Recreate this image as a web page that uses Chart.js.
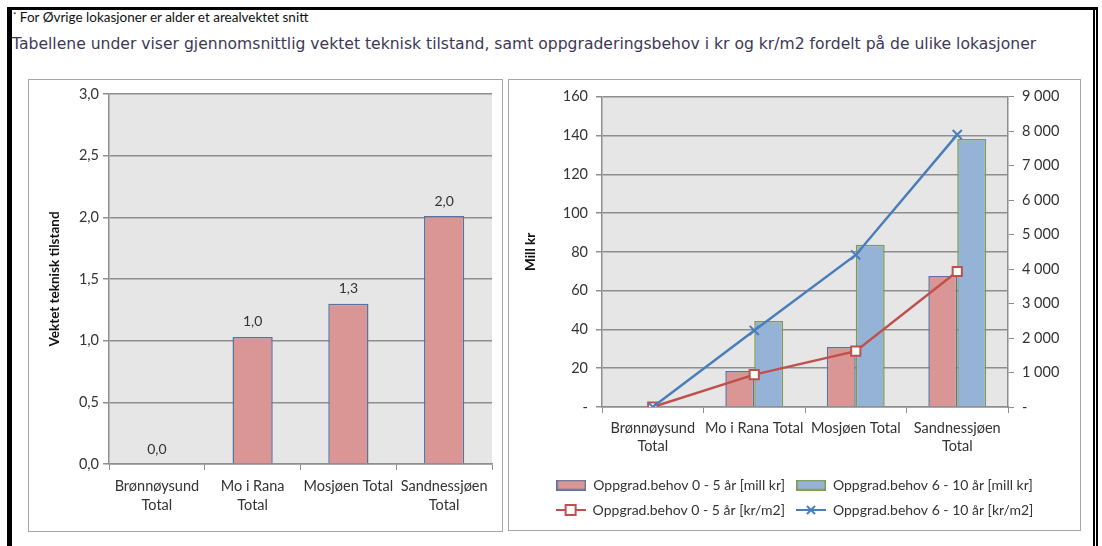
<!DOCTYPE html>
<html>
<head>
<meta charset="utf-8">
<script src="https://cdn.jsdelivr.net/npm/chart.js@4.4.1/dist/chart.umd.min.js"></script>
<style>
  body { margin: 0; background: #fff; }
  #page { position: relative; width: 1102px; height: 546px; overflow: hidden; background: #fff; }
  .bar { position: absolute; background: #000; }
  #note { position: absolute; left: 13px; top: 9px; font: 13.5px Lato, sans-serif; color: #111; white-space: nowrap; }
  #note sup { font-size: 8px; vertical-align: 4px; }
  #intro { position: absolute; left: 12px; top: 35px; font: 15.6px "DejaVu Sans", sans-serif; color: #3d3855; white-space: nowrap; }
  .box { position: absolute; border: 1px solid #a6a6a6; background: #fff; }
  .box canvas { position: absolute; left: 0; top: 0; }
</style>
</head>
<body>
<div id="page">
  <div class="bar" style="left:7px;top:7px;width:5px;height:539px"></div>
  <div class="bar" style="left:7px;top:7px;width:1091px;height:3px"></div>
  <div class="bar" style="left:1093px;top:7px;width:2px;height:539px"></div>
  <div class="bar" style="left:1096px;top:7px;width:2px;height:539px"></div>
  <div id="note"><sup>*</sup> For Øvrige lokasjoner er alder et arealvektet snitt</div>
  <div id="intro">Tabellene under viser gjennomsnittlig vektet teknisk tilstand, samt oppgraderingsbehov i kr og kr/m2 fordelt på de ulike lokasjoner</div>
  <div class="box" style="left:28px;top:79px;width:473px;height:451px"><canvas id="left" width="473" height="451"></canvas></div>
  <div class="box" style="left:508px;top:79px;width:571px;height:450px"><canvas id="right" width="571" height="450"></canvas></div>
</div>
<script>
// categories
var leftLabels = [['Brønnøysund', 'Total'], ['Mo i Rana', 'Total'], 'Mosjøen Total', ['Sandnessjøen', 'Total']];
var rightLabels = [['Brønnøysund', 'Total'], 'Mo i Rana Total', 'Mosjøen Total', ['Sandnessjøen', 'Total']];

// vektet teknisk tilstand
var tilstand = [0.0, 1.03, 1.30, 2.01];

// oppgraderingsbehov, mill kr
var mill05 = [0, 18.5, 30.9, 67.5];
var mill610 = [0, 44.3, 83.6, 138.2];

// oppgraderingsbehov, kr/m2
var krm05 = [0, 940, 1620, 3930];
var krm610 = [0, 2220, 4410, 7900];

var seriesNames = [
    'Oppgrad.behov 0 - 5 år [mill kr]',
    'Oppgrad.behov 6 - 10 år [mill kr]',
    'Oppgrad.behov 0 - 5 år [kr/m2]',
    'Oppgrad.behov 6 - 10 år [kr/m2]'
];

var FONT = 'Lato, sans-serif';
var TXT = '#333';
var GRID = '#8e8e8e';
var RED_FILL = '#d99694', RED_EDGE = '#5a72a0';
var BLUE_FILL = '#95b3d7', BLUE_EDGE = '#7f9a48';
var RED_LINE = '#c0504d', BLUE_LINE = '#4a7ebb';

var comma = function (v) { return v.toFixed(1).replace('.', ','); };
var dashZero = function (v) { return v === 0 ? '-' : String(v).replace(/\B(?=(\d{3})+(?!\d))/g, ' '); };

var plotBg = {
    id: 'plotBg',
    beforeDraw: function (chart) {
        var a = chart.chartArea, ctx = chart.ctx;
        ctx.save();
        ctx.fillStyle = '#e6e6e6';
        ctx.fillRect(a.left, a.top, a.right - a.left, a.bottom - a.top);
        ctx.restore();
    }
};

var barValues = {
    id: 'barValues',
    afterDatasetsDraw: function (chart) {
        var ctx = chart.ctx;
        var meta = chart.getDatasetMeta(0);
        ctx.save();
        ctx.font = '14px ' + FONT;
        ctx.fillStyle = TXT;
        ctx.textAlign = 'center';
        ctx.textBaseline = 'bottom';
        meta.data.forEach(function (bar, i) {
            ctx.fillText(comma(chart.data.datasets[0].data[i]), bar.x, bar.y - 8);
        });
        ctx.restore();
    }
};

var fixSize = function (prop, size) {
    return function (scale) { scale[prop] = size; };
};

// legend swatches
var swatchBar = function (fill, edge) {
    var c = document.createElement('canvas');
    c.width = 30; c.height = 11;
    var g = c.getContext('2d');
    g.fillStyle = fill; g.fillRect(0, 0, 30, 11);
    g.strokeStyle = edge; g.lineWidth = 1.5; g.strokeRect(0.75, 0.75, 28.5, 9.5);
    return c;
};
var swatchLine = function (color, marker) {
    var c = document.createElement('canvas');
    c.width = 30; c.height = 14;
    var g = c.getContext('2d');
    g.strokeStyle = color; g.lineWidth = 2;
    g.beginPath(); g.moveTo(0, 7); g.lineTo(30, 7); g.stroke();
    if (marker === 'rect') {
        g.fillStyle = '#fff'; g.fillRect(10, 2, 10, 10);
        g.strokeRect(10, 2, 10, 10);
    } else {
        g.beginPath(); g.moveTo(11, 3); g.lineTo(19, 11); g.moveTo(19, 3); g.lineTo(11, 11); g.stroke();
    }
    return c;
};

Chart.defaults.font.family = FONT;
Chart.defaults.color = TXT;
Chart.defaults.animation = false;

new Chart(document.getElementById('left'), {
    type: 'bar',
    data: {
        labels: leftLabels,
        datasets: [{
            data: tilstand,
            backgroundColor: RED_FILL,
            borderColor: RED_EDGE,
            borderWidth: 1.5,
            categoryPercentage: 1,
            barPercentage: 0.42
        }]
    },
    options: {
        responsive: false,
        layout: { padding: { top: 14, right: 10, left: 0, bottom: 0 } },
        plugins: { legend: { display: false }, tooltip: { enabled: false } },
        scales: {
            x: {
                afterFit: fixSize('height', 67),
                grid: { drawOnChartArea: false, tickLength: 6, color: GRID, offset: true },
                border: { color: GRID, width: 1.5 },
                ticks: { font: { size: 14.5, lineHeight: 1.3 }, padding: 7, maxRotation: 0 }
            },
            y: {
                min: 0, max: 3,
                afterFit: fixSize('width', 80),
                ticks: { stepSize: 0.5, font: { size: 14.5 }, padding: 4, callback: comma },
                grid: { color: GRID, lineWidth: 1.5, tickLength: 6 },
                border: { color: GRID, width: 1.5 },
                title: { display: true, text: 'Vektet teknisk tilstand', color: '#111',
                    font: { size: 13.5, weight: 'bold' }, padding: { top: 18, bottom: 0 } }
            }
        }
    },
    plugins: [plotBg, barValues]
});

new Chart(document.getElementById('right'), {
    type: 'bar',
    data: {
        labels: rightLabels,
        datasets: [{
            label: seriesNames[0], data: mill05, yAxisID: 'y',
            backgroundColor: RED_FILL, borderColor: RED_EDGE, borderWidth: 1.5,
            categoryPercentage: 0.57, barPercentage: 1, order: 2
        }, {
            label: seriesNames[1], data: mill610, yAxisID: 'y',
            backgroundColor: BLUE_FILL, borderColor: BLUE_EDGE, borderWidth: 1.5,
            categoryPercentage: 0.57, barPercentage: 1, order: 2
        }, {
            type: 'line', label: seriesNames[2], data: krm05, yAxisID: 'y1',
            borderColor: RED_LINE, borderWidth: 2.5, tension: 0,
            pointStyle: 'rect', pointRadius: 6.5, pointBorderWidth: 2,
            pointBackgroundColor: '#fff', pointBorderColor: RED_LINE, order: 1
        }, {
            type: 'line', label: seriesNames[3], data: krm610, yAxisID: 'y1',
            borderColor: BLUE_LINE, borderWidth: 2.5, tension: 0,
            pointStyle: 'crossRot', pointRadius: 6.5, pointBorderWidth: 2,
            pointBorderColor: BLUE_LINE, order: 0
        }]
    },
    options: {
        responsive: false,
        layout: { padding: { top: 14, right: 0, left: 0, bottom: 3 } },
        plugins: {
            tooltip: { enabled: false },
            legend: {
                position: 'bottom',
                labels: {
                    usePointStyle: true,
                    pointStyleWidth: 30,
                    boxHeight: 11,
                    padding: 11,
                    font: { size: 14 },
                    color: TXT,
                    generateLabels: function (chart) {
                        var styles = [
                            swatchBar(RED_FILL, RED_EDGE),
                            swatchBar(BLUE_FILL, BLUE_EDGE),
                            swatchLine(RED_LINE, 'rect'),
                            swatchLine(BLUE_LINE, 'cross')
                        ];
                        return chart.data.datasets.map(function (ds, i) {
                            return { text: ds.label, pointStyle: styles[i], datasetIndex: i,
                                fillStyle: 'transparent', strokeStyle: 'transparent', lineWidth: 0, fontColor: TXT };
                        });
                    }
                }
            }
        },
        scales: {
            x: {
                afterFit: fixSize('height', 60),
                grid: { drawOnChartArea: false, tickLength: 6, color: GRID, offset: true },
                border: { color: GRID, width: 1.5 },
                ticks: { font: { size: 14.5, lineHeight: 1.25 }, padding: 6, maxRotation: 0 }
            },
            y: {
                min: 0, max: 160,
                afterFit: fixSize('width', 93),
                ticks: { stepSize: 20, font: { size: 14.5 }, padding: 8, callback: dashZero },
                grid: { color: GRID, lineWidth: 1.5, tickLength: 6 },
                border: { color: GRID, width: 1.5 },
                title: { display: true, text: 'Mill kr', color: '#111',
                    font: { size: 13.5, weight: 'bold' }, padding: { top: 14, bottom: 0 } }
            },
            y1: {
                position: 'right',
                min: 0, max: 9000,
                afterFit: fixSize('width', 72),
                ticks: { stepSize: 1000, font: { size: 14.5 }, padding: 8, callback: dashZero },
                grid: { drawOnChartArea: false, color: GRID, tickLength: 6 },
                border: { color: GRID, width: 1.5 }
            }
        }
    },
    plugins: [plotBg]
});
</script>
</body>
</html>
